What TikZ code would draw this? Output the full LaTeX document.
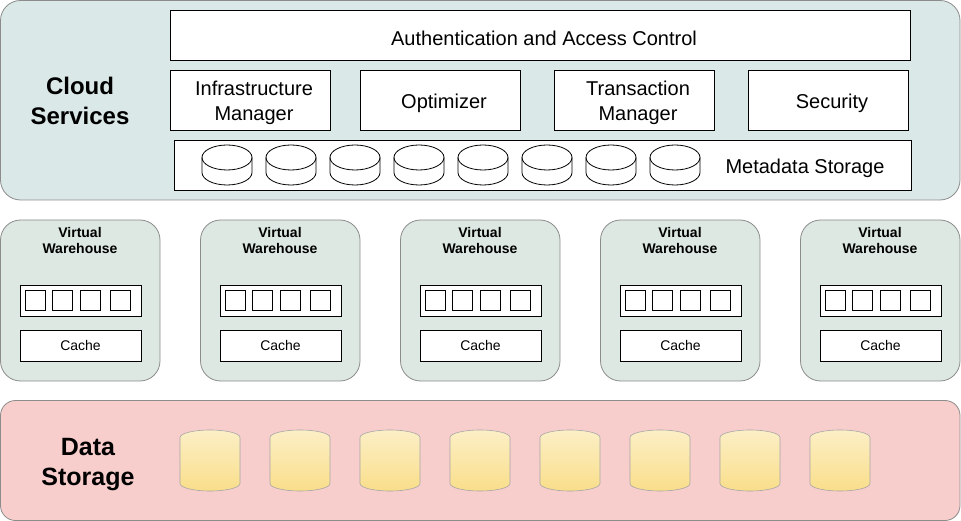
\documentclass[tikz,border=0pt]{standalone}
\usepackage{fontspec}
\setmainfont{Liberation Sans}
\usepackage{xcolor}
\usetikzlibrary{positioning}
\definecolor{CloudFill}{HTML}{DAE8E7}
\definecolor{WarehouseFill}{HTML}{DDE8E2}
\definecolor{StorageFill}{HTML}{F8CECC}
\definecolor{DiskYellow}{HTML}{F9DE8A}
\definecolor{DiskLight}{HTML}{FCEFC6}
\definecolor{FrameGray}{HTML}{8C8C8C}

\begin{document}
\begin{tikzpicture}[x=1pt, y=-1pt, outer sep=0pt,
  layer/.style={draw=FrameGray, line width=0.8pt, rounded corners=20pt},
  caption/.style={align=center, inner sep=0pt, yshift=-3pt, font=\fontsize{20}{25}\selectfont},
  unit/.style={rectangle, draw, fill=white, line width=0.8pt, inner sep=0pt, label={[caption, xshift=4pt]center:#1}},
  small/.style={rectangle, draw, fill=white, line width=0.8pt, inner sep=0pt, minimum width=121pt, minimum height=31pt, font=\fontsize{14}{16}\selectfont},
  title/.style={align=center, inner sep=0pt, font=\fontsize{24}{30}\selectfont\bfseries}]

        \useasboundingbox (0,0) rectangle (961,521);

        \draw[layer, fill=CloudFill] (0.5,0.5) rectangle (960,200);
        \draw[layer, fill=StorageFill, rounded corners=15pt] (0.5,400.5) rectangle (960,520.5);

        \node[title] (cloud) at (80,101) {Cloud\\Services};
        \node[unit={Authentication and Access Control}, minimum width=740pt, minimum height=50pt] (auth) at (540,35) {};

        \node[unit={Infrastructure\\Manager}, minimum width=160pt, minimum height=60pt] (infra) at (250,100) {};
        \node[unit={Optimizer}, minimum width=160pt, minimum height=60pt] (opt) at (440,100) {};
        \node[unit={Transaction\\Manager}, minimum width=160pt, minimum height=60pt] (trans) at (634,100) {};
        \node[unit={Security}, minimum width=160pt, minimum height=60pt] (sec) at (828,100) {};

        \node[unit={}, minimum width=737pt, minimum height=50pt] (meta) at (542.5,165) {};
        \node[caption] (metalabel) at (805,165) {Metadata Storage};
        \foreach \k in {0,...,7} {
            \begin{scope}[shift={(227+64*\k,165)}, line width=0.8pt]
                \draw[fill=white] (-25,-7.5) -- (-25,7.5) arc[start angle=180, end angle=0, x radius=25, y radius=12.5]
                    -- (25,-7.5) arc[start angle=0, end angle=-180, x radius=25, y radius=12.5] -- cycle;
                \draw (-25,-7.5) arc[start angle=180, end angle=0, x radius=25, y radius=12.5];
            \end{scope}
        }

        \foreach \i in {0,...,4} {
            \draw[layer, fill=WarehouseFill] (0.5+200*\i,220) rectangle (160+200*\i,381);
            \node[align=center, inner sep=0pt, font=\fontsize{14}{16}\selectfont\bfseries] (vw\i) at (80+200*\i,240) {Virtual\\Warehouse};
            \node[small] (slots\i) at (80.5+200*\i,300.5) {};
            \foreach \s/\dx in {a/35, b/62, c/90, d/120}
                \node[rectangle, draw, fill=white, line width=0.8pt, minimum size=20pt, inner sep=0pt] (slot\i\s) at (\dx+200*\i,300.5) {};
            \node[small, below=14pt of slots\i] (cache\i) {Cache};
        }

        \node[title, font=\fontsize{25}{30}\selectfont\bfseries] (data) at (88,465) {Data\\Storage};
        \foreach \k in {0,...,7} {
            \begin{scope}[shift={(210+90*\k,460.5)}]
                \draw[draw=gray!70, line width=0.6pt, top color=DiskLight, bottom color=DiskYellow]
                    (-30,-23) -- (-30,23) arc[start angle=180, end angle=0, x radius=30, y radius=7.5]
                    -- (30,-23) arc[start angle=0, end angle=-180, x radius=30, y radius=7.5] -- cycle;
            \end{scope}
        }

    \end{tikzpicture}
\end{document}
